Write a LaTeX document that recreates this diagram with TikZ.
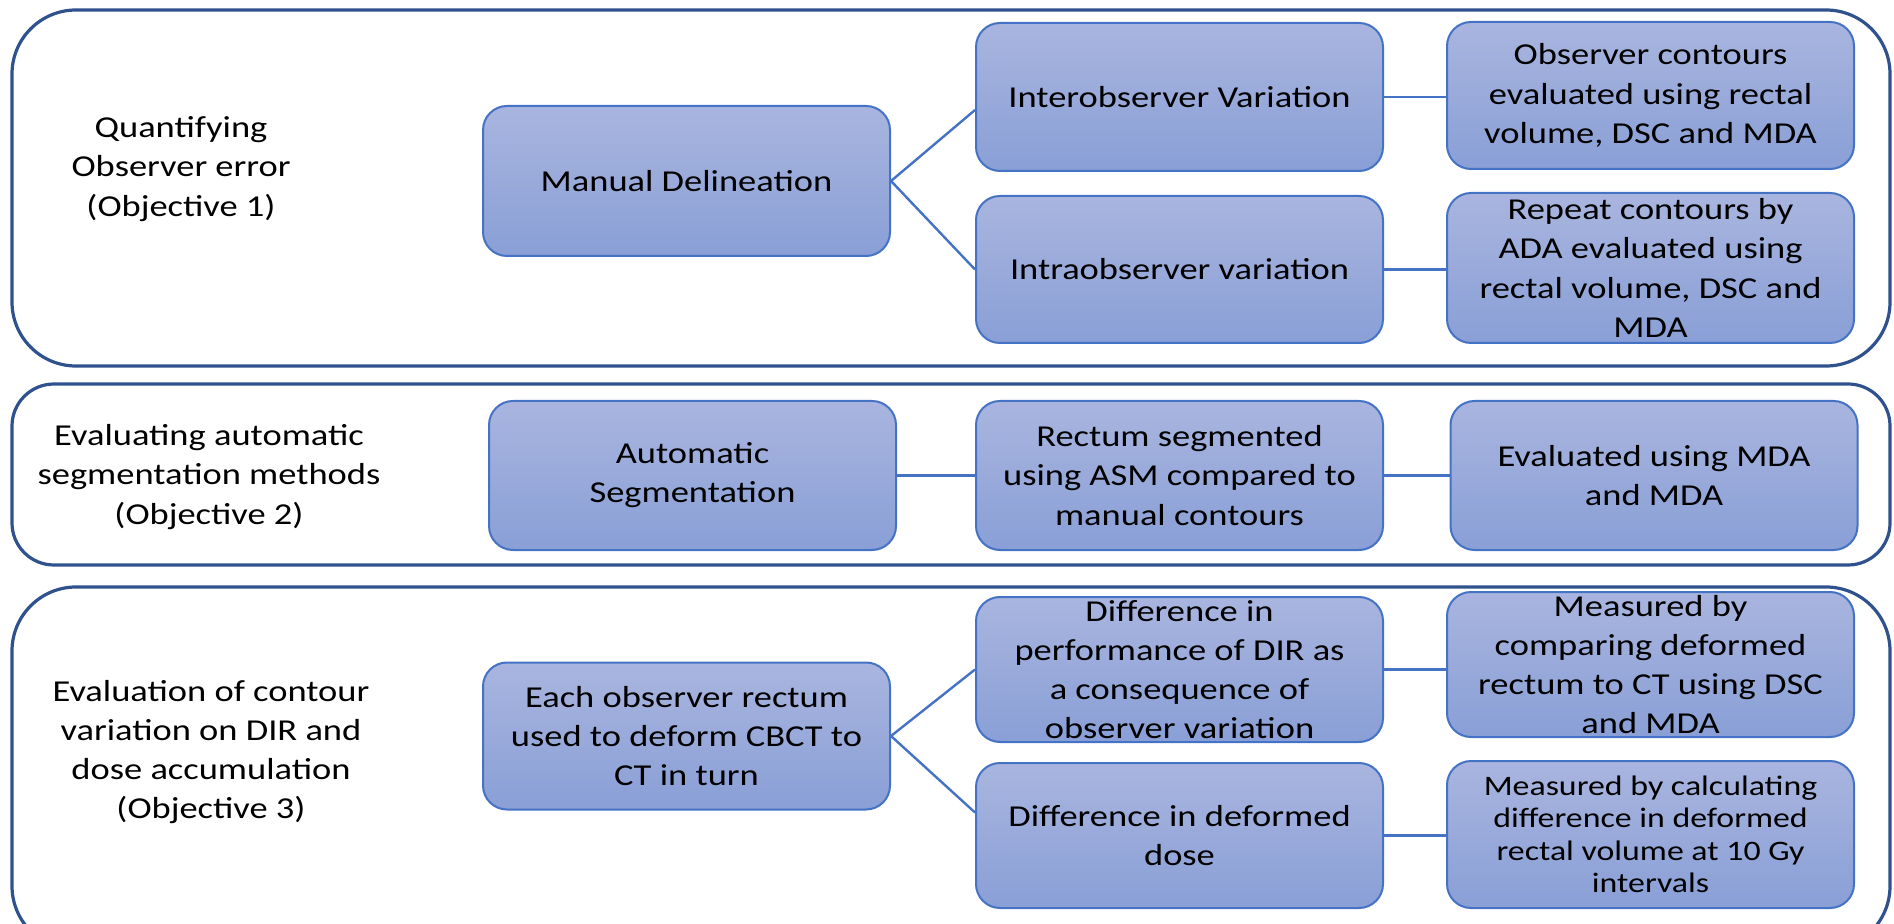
\documentclass[tikz,border=0pt]{standalone}
\usepackage{fontspec}
\setmainfont[FakeStretch=1.2]{Carlito}
\definecolor{panelline}{RGB}{47,82,143}
\definecolor{boxline}{RGB}{68,114,196}
\definecolor{boxtop}{RGB}{169,181,223}
\definecolor{boxbot}{RGB}{137,159,214}
\begin{document}
\begin{tikzpicture}[x=0.5pt,y=-0.5pt,
  panel/.style={draw=panelline,line width=1.6pt},
  box/.style={draw=boxline,line width=1pt,rounded corners=12pt,
    top color=boxtop,bottom color=boxbot,
    minimum width=203.5pt,align=center,inner sep=0pt,
    font=\fontsize{15.2}{19.6}\selectfont},
  lab/.style={align=center,font=\fontsize{15.2}{19.6}\selectfont},
  link/.style={draw=boxline,line width=1.2pt}]
\useasboundingbox (0,0) rectangle (1894,924);
% panels
\draw[panel,rounded corners=32pt] (12,10) rectangle (1890,366);
\draw[panel,rounded corners=21pt] (12,384) rectangle (1890,565);
\draw[panel,rounded corners=32pt] (12,587) rectangle (1890,950);
% labels
\node[lab] (lab1) at (181,169) {Quantifying\\Observer error\\(Objective 1)};
\node[lab] (lab2) at (209,477) {Evaluating automatic\\segmentation methods\\(Objective 2)};
\node[lab] (lab3) at (211,752) {Evaluation of contour\\variation on DIR and\\dose accumulation\\(Objective 3)};
% panel 1
\node[box,minimum height=75pt] (md) at (686.5,181) {Manual Delineation};
\node[box,minimum height=74pt] (inter) at (1179.5,97) {Interobserver Variation};
\node[box,minimum height=73.5pt] (intra) at (1179.5,269.5) {Intraobserver variation};
\node[box,minimum height=73.5pt] (oc) at (1650.5,95.5) {Observer contours\\evaluated using rectal\\volume, DSC and MDA};
\node[box,minimum height=75pt] (rc) at (1650.5,268) {Repeat contours by\\ADA evaluated using\\rectal volume, DSC and\\MDA};
% panel 2
\node[box,minimum height=74.5pt] (as) at (692.5,475.5) {Automatic\\Segmentation};
\node[box,minimum height=74.5pt] (rs) at (1179.5,475.5) {Rectum segmented\\using ASM compared to\\manual contours};
\node[box,minimum height=74.5pt] (ev) at (1654,475.5) {Evaluated using MDA\\and MDA};
% panel 3
\node[box,minimum height=73.5pt] (eo) at (686.5,736) {Each observer rectum\\used to deform CBCT to\\CT in turn};
\node[box,minimum height=72.5pt] (dp) at (1179.5,669.5) {Difference in\\performance of DIR as\\a consequence of\\observer variation};
\node[box,minimum height=72.5pt] (dd) at (1179.5,835.5) {Difference in deformed\\dose};
\node[box,minimum height=72.5pt] (mc) at (1650.5,664.5) {Measured by\\comparing deformed\\rectum to CT using DSC\\and MDA};
\node[box,minimum height=73.5pt,font=\fontsize{14.1}{16.2}\selectfont] (mv) at (1650.5,834.5) {Measured by calculating\\difference in deformed\\rectal volume at 10 Gy\\intervals};
% connectors
\draw[link] (md.east) -- ([yshift=-6.5pt]inter.west);
\draw[link] (md.east) -- (intra.west);
\draw[link] (inter.east) -- (inter.east -| oc.west);
\draw[link] (intra.east) -- (intra.east -| rc.west);
\draw[link] (as.east) -- (rs.west);
\draw[link] (rs.east) -- (ev.west);
\draw[link] (eo.east) -- (dp.west);
\draw[link] (eo.east) -- ([yshift=11.5pt]dd.west);
\draw[link] (dp.east) -- (dp.east -| mc.west);
\draw[link] (dd.east) -- (dd.east -| mv.west);
\end{tikzpicture}
\end{document}
